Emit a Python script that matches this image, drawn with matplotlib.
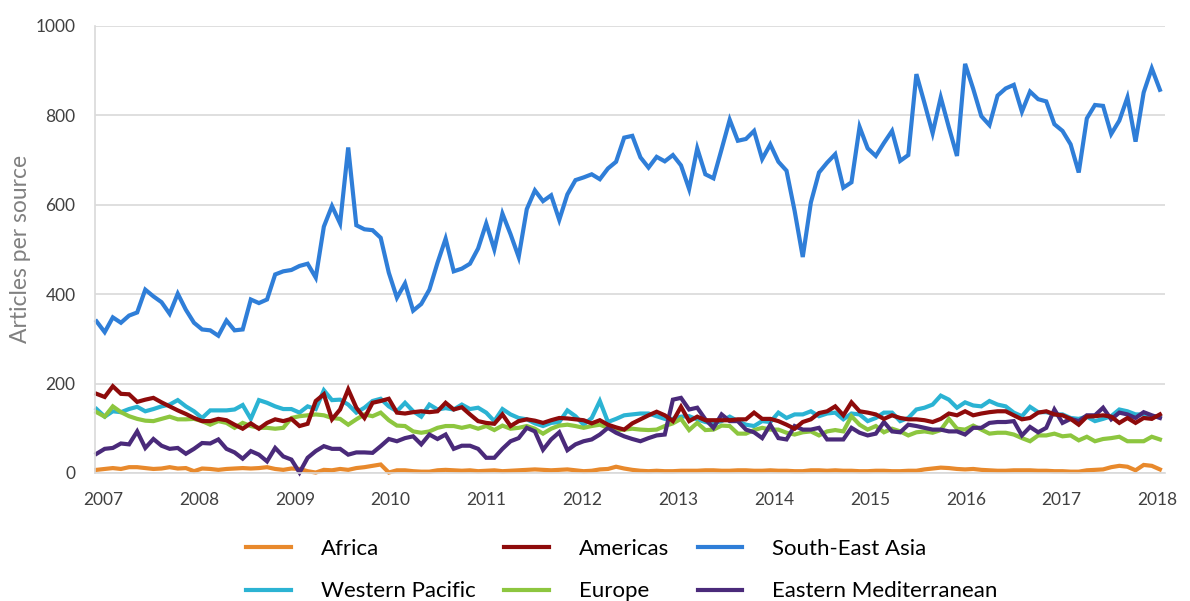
import matplotlib
matplotlib.use('Agg')
import matplotlib.pyplot as plt
import numpy as np

# --- данные (месячные значения, 2007-01 ... 2018-01) ---
years = [str(y) for y in range(2007, 2019)]

south_east_asia = [
    339, 315, 348, 336, 352, 359, 410, 395, 382, 356, 401, 365, 336, 321, 319, 307,
    341, 319, 321, 388, 380, 388, 444, 451, 454, 463, 468, 437, 551, 597, 558, 728,
    554, 545, 543, 526, 448, 392, 424, 363, 378, 410, 470, 524, 451, 457, 468, 502,
    558, 500, 580, 534, 483, 590, 632, 608, 621, 566, 623, 655, 661, 668, 657, 681,
    696, 750, 754, 706, 683, 707, 697, 711, 688, 635, 726, 668, 659, 724, 790, 743,
    747, 765, 702, 735, 696, 676, 586, 483, 605, 672, 694, 713, 638, 650, 774, 726,
    709, 738, 765, 698, 711, 892, 827, 760, 840, 773, 709, 915, 859, 798, 778, 844,
    860, 868, 808, 853, 836, 831, 780, 765, 735, 672, 793, 823, 821, 758, 788, 840,
    741, 851, 905, 857,
]

americas = [
    177, 170, 194, 177, 176, 159, 164, 168, 158, 149, 140, 132, 123, 116, 116, 121,
    118, 108, 99, 111, 99, 112, 120, 116, 121, 105, 110, 161, 176, 120, 142, 187,
    146, 123, 157, 161, 166, 135, 133, 136, 138, 136, 138, 157, 142, 147, 131, 116,
    112, 110, 131, 105, 116, 120, 117, 112, 118, 123, 122, 120, 118, 111, 118, 108,
    102, 97, 111, 120, 129, 137, 129, 116, 148, 116, 126, 118, 118, 118, 118, 120,
    120, 135, 121, 121, 116, 108, 99, 114, 120, 134, 138, 149, 129, 158, 138, 135,
    131, 121, 129, 123, 120, 120, 118, 114, 121, 133, 129, 138, 129, 133, 136, 138,
    138, 129, 120, 123, 135, 138, 131, 129, 121, 108, 126, 127, 129, 126, 112, 123,
    112, 123, 121, 131,
]

western_pacific = [
    143, 126, 138, 136, 143, 148, 138, 143, 149, 153, 163, 149, 138, 123, 140, 140,
    140, 142, 152, 121, 163, 157, 149, 143, 143, 135, 149, 143, 185, 163, 164, 153,
    135, 146, 161, 166, 149, 138, 157, 138, 126, 153, 142, 145, 142, 153, 143, 146,
    135, 116, 143, 131, 123, 120, 111, 105, 112, 114, 140, 127, 108, 123, 161, 114,
    121, 129, 131, 133, 133, 127, 121, 121, 126, 127, 120, 114, 111, 116, 126, 116,
    108, 105, 116, 114, 135, 123, 131, 131, 138, 127, 133, 135, 120, 133, 131, 116,
    123, 135, 135, 116, 123, 142, 146, 153, 173, 164, 146, 158, 151, 149, 161, 153,
    149, 135, 127, 148, 136, 136, 131, 131, 123, 121, 126, 116, 121, 127, 142, 138,
    131, 131, 127, 126,
]

europe = [
    136, 126, 149, 136, 127, 121, 117, 116, 121, 126, 120, 120, 121, 116, 108, 116,
    112, 101, 112, 105, 101, 101, 99, 101, 123, 127, 129, 131, 129, 123, 121, 108,
    120, 131, 127, 135, 118, 106, 105, 93, 90, 93, 101, 105, 105, 101, 105, 99,
    105, 96, 106, 99, 101, 105, 99, 88, 99, 106, 108, 105, 101, 105, 108, 101,
    96, 97, 99, 97, 96, 97, 105, 111, 121, 96, 112, 96, 97, 106, 105, 88,
    88, 96, 101, 97, 97, 90, 86, 91, 93, 84, 93, 96, 93, 127, 108, 97,
    105, 91, 99, 93, 84, 91, 93, 90, 96, 121, 99, 97, 106, 97, 88, 90,
    90, 86, 78, 71, 84, 84, 88, 82, 84, 73, 81, 71, 76, 78, 81, 71,
    71, 71, 81, 75,
]

eastern_mediterranean = [
    43, 54, 56, 66, 64, 93, 56, 76, 61, 54, 56, 43, 54, 67, 66, 75,
    54, 46, 32, 49, 41, 26, 56, 37, 30, 1, 34, 49, 60, 54, 54, 41,
    46, 46, 45, 60, 76, 71, 78, 82, 64, 86, 76, 86, 54, 61, 61, 54,
    34, 34, 54, 71, 78, 101, 93, 52, 75, 91, 51, 64, 71, 75, 86, 101,
    90, 82, 76, 71, 78, 84, 86, 164, 168, 142, 146, 120, 101, 131, 116, 116,
    97, 91, 78, 108, 78, 75, 105, 97, 97, 101, 75, 75, 75, 101, 90, 84,
    88, 114, 93, 91, 108, 105, 101, 97, 97, 93, 93, 86, 101, 101, 112, 114,
    114, 116, 84, 103, 91, 101, 142, 112, 121, 116, 129, 129, 146, 120, 135, 131,
    123, 136, 129, 123,
]

africa = [
    7, 9, 11, 9, 13, 13, 11, 9, 10, 13, 10, 11, 4, 10, 9, 7,
    9, 10, 11, 10, 11, 13, 9, 7, 10, 9, 4, 1, 7, 6, 9, 7,
    11, 13, 16, 19, 1, 6, 6, 4, 3, 3, 6, 7, 6, 5, 6, 4,
    5, 6, 4, 5, 6, 7, 8, 7, 6, 7, 8, 6, 4, 5, 8, 9,
    14, 10, 7, 5, 4, 5, 4, 4, 5, 5, 5, 6, 6, 5, 5, 6,
    6, 5, 5, 6, 5, 5, 4, 4, 6, 6, 5, 6, 5, 5, 4, 4,
    5, 5, 4, 4, 5, 5, 8, 10, 12, 11, 9, 8, 9, 7, 6, 5,
    5, 6, 6, 6, 5, 5, 4, 4, 3, 3, 6, 7, 8, 13, 16, 14,
    6, 18, 16, 8,
]

plt.rcParams['font.family'] = ['Lato', 'DejaVu Sans']

fig = plt.figure(figsize=(11.9, 6.01), dpi=100)
ax = fig.add_axes([0.0798, 0.213, 0.899, 0.744])

months = np.arange(len(south_east_asia))

# порядок отрисовки: красная линия поверх остальных нижних
series = [
    ('Africa', africa, '#E8892C'),
    ('Western Pacific', western_pacific, '#2BB3D3'),
    ('Europe', europe, '#8DC63F'),
    ('Eastern Mediterranean', eastern_mediterranean, '#4A2A7A'),
    ('Americas', americas, '#8E0B0B'),
    ('South-East Asia', south_east_asia, '#2F7ED8'),
]
lines = {}
for name, values, color in series:
    ln, = ax.plot(months, values, color=color, linewidth=3.0,
                  solid_joinstyle='miter', label=name, clip_on=False)
    lines[name] = ln

ax.set_ylim(0, 1000)
ax.set_xlim(-0.2, 131.6)
ax.set_yticks(range(0, 1001, 200))
ax.set_xticks(np.linspace(0.8, 130.7, len(years)))
ax.set_xticklabels(years)

ax.grid(axis='y', color='#d9d9d9', linewidth=1.2)
ax.set_axisbelow(True)
for side in ['top', 'right']:
    ax.spines[side].set_visible(False)
ax.spines['left'].set_color('#d9d9d9')
ax.spines['bottom'].set_color('#d9d9d9')
ax.spines['left'].set_linewidth(1.2)
ax.spines['bottom'].set_linewidth(1.2)

ax.tick_params(axis='both', length=0, labelsize=12.5, labelcolor='#404040')
ax.tick_params(axis='y', pad=14)
ax.tick_params(axis='x', pad=14)

ax.set_ylabel('Articles per source', fontsize=16.5, color='#808080', labelpad=3)

# легенда: 2 строки по 3, заполняется по столбцам
order = ['Africa', 'Western Pacific', 'Americas', 'Europe',
         'South-East Asia', 'Eastern Mediterranean']
fig.legend([lines[n] for n in order], order, loc='upper left',
           bbox_to_anchor=(0.190, 0.136), ncol=3, frameon=False,
           fontsize=16, handlelength=2.0, handletextpad=1.35,
           columnspacing=1.3, labelspacing=1.0)

plt.savefig('out.png', dpi=100)
plt.close()
